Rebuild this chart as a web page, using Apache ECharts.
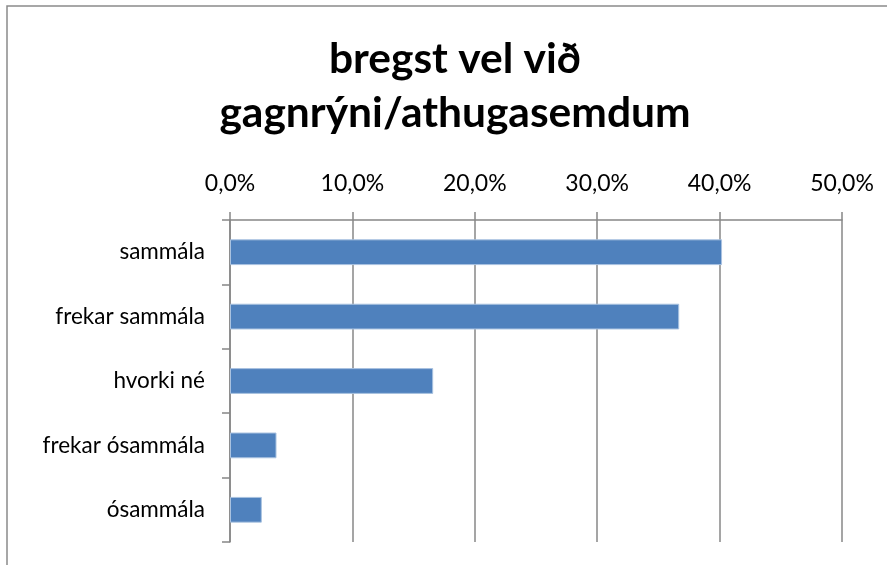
<!DOCTYPE html>
<html>
<head>
<meta charset="utf-8">
<script src="https://cdn.jsdelivr.net/npm/echarts@6/dist/echarts.min.js"></script>
<style>
  html, body { margin: 0; padding: 0; background: #fff; }
  #chart { width: 887px; height: 565px; }
</style>
</head>
<body>
<div id="chart"></div>
<script>
// svör, efst til neðst
var categories = ['sammála', 'frekar sammála', 'hvorki né', 'frekar ósammála', 'ósammála'];
var values = [40.2, 36.7, 16.6, 3.8, 2.6];
var ticks = [0, 10, 20, 30, 40, 50];
var titleText = 'bregst vel við\ngagnrýni/athugasemdum';

var font = 'Lato, "Open Sans", sans-serif';
var lineCol = '#878787';

var chart = echarts.init(document.getElementById('chart'));
chart.setOption({
    animation: false,
    backgroundColor: '#fff',
    // rammi utan um myndina (bara vinstri og efri brún sjást)
    graphic: [{
        type: 'rect',
        shape: { x: 7, y: 6, width: 920, height: 600 },
        style: { fill: 'none', stroke: '#8a8a8a', lineWidth: 1.5 },
        silent: true
    }],
    title: {
        text: titleText,
        left: 450,
        textAlign: 'center',
        top: 27,
        textStyle: {
            fontFamily: font,
            fontSize: 42.5,
            fontWeight: 'bold',
            lineHeight: 54,
            color: '#000'
        }
    },
    grid: {
        left: 230,
        right: 45,
        top: 220,
        bottom: 23,
        containLabel: false
    },
    xAxis: {
        type: 'value',
        position: 'top',
        min: ticks[0],
        max: ticks[ticks.length - 1],
        interval: 10,
        axisLine: { show: true, lineStyle: { color: lineCol, width: 1.5 } },
        axisTick: { show: true, length: 8, lineStyle: { color: lineCol, width: 1.5 } },
        splitLine: { show: true, lineStyle: { color: lineCol, width: 1.5 } },
        axisLabel: {
            margin: 25,
            fontFamily: font,
            fontSize: 23,
            color: '#000',
            formatter: function (v) { return v.toFixed(1).replace('.', ',') + '%'; }
        }
    },
    yAxis: {
        type: 'category',
        data: categories,
        inverse: true,
        axisLine: { show: true, lineStyle: { color: lineCol, width: 1.5 } },
        axisTick: { show: true, length: 8, lineStyle: { color: lineCol, width: 1.5 } },
        axisLabel: {
            margin: 25,
            fontFamily: font,
            fontSize: 22.5,
            color: '#000'
        }
    },
    series: [{
        type: 'bar',
        data: values,
        barCategoryGap: '60%',
        itemStyle: {
            color: '#4f81bd',
            borderColor: '#a9c2e0',
            borderWidth: 1
        }
    }]
});
</script>
</body>
</html>
